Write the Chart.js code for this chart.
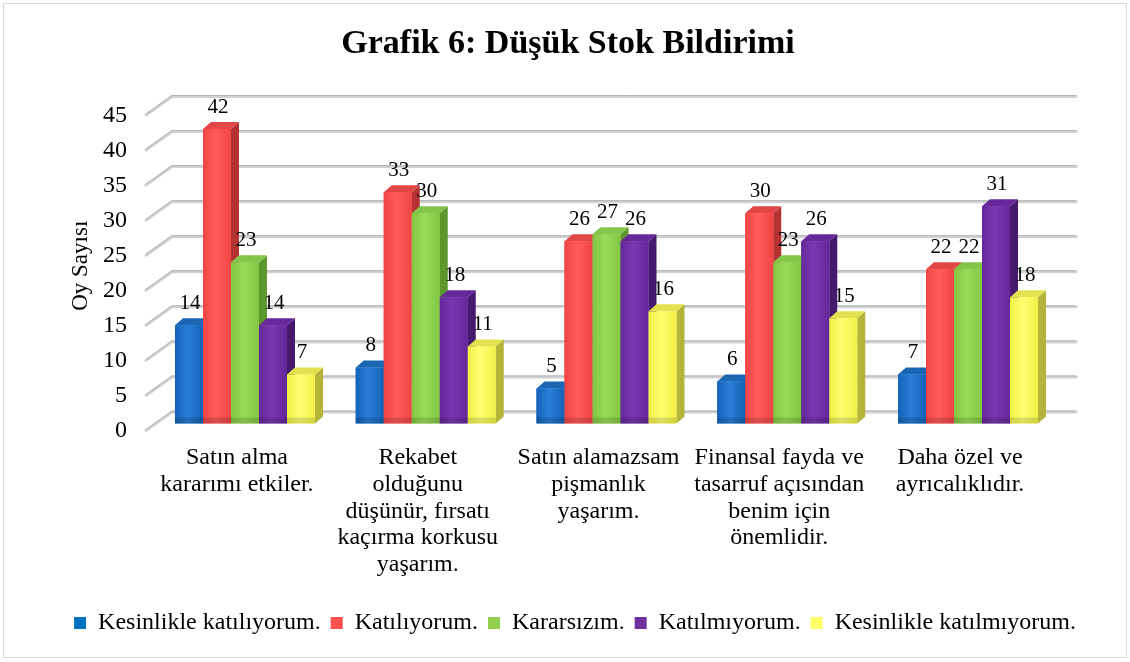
<!DOCTYPE html>
<html>
<head>
<meta charset="utf-8">
<script src="https://cdn.jsdelivr.net/npm/chart.js@4/dist/chart.umd.min.js"></script>
<style>
  html, body { margin: 0; padding: 0; background: #ffffff; }
  #wrap { width: 1130px; height: 662px; position: relative; }
</style>
</head>
<body>
<div id="wrap"><canvas id="c" width="1130" height="662"></canvas></div>
<script>
// ---- data ----
const categories = [
  ["Satın alma", "kararımı etkiler."],
  ["Rekabet", "olduğunu", "düşünür, fırsatı", "kaçırma korkusu", "yaşarım."],
  ["Satın alamazsam", "pişmanlık", "yaşarım."],
  ["Finansal fayda ve", "tasarruf açısından", "benim için", "önemlidir."],
  ["Daha özel ve", "ayrıcalıklıdır."]
];
const seriesNames = ["Kesinlikle katılıyorum.", "Katılıyorum.", "Kararsızım.", "Katılmıyorum.", "Kesinlikle katılmıyorum."];
const kesinlikleKatiliyorum = [14, 8, 5, 6, 7];
const katiliyorum = [42, 33, 26, 30, 22];
const kararsizim = [23, 30, 27, 23, 22];
const katilmiyorum = [14, 18, 26, 26, 31];
const kesinlikleKatilmiyorum = [7, 11, 16, 15, 18];
const yMin = 0, yMax = 45, yStep = 5;
const chartTitle = "Grafik 6: Düşük Stok Bildirimi";
const yTitle = "Oy Sayısı";

// ---- styles ----
const legendColors = ['#0070C0', '#FF5050', '#92D050', '#7030A0', '#FFFF66'];
const frontEdge = ['#1462B6', '#F04444', '#82C642', '#64279A', '#F0F048'];
const frontMid  = ['#2A7ED6', '#FF5C5C', '#9ADB5A', '#7A38B0', '#FFFF70'];
const sideColors = ['#0E4A8C', '#B53232', '#5C982C', '#46196E', '#B4B43A'];
const topColors  = ['#1B66B4', '#E24646', '#84C64A', '#67299A', '#E2E250'];
const FONT = "'Liberation Serif', 'Times New Roman', serif";

const seriesValues = [kesinlikleKatiliyorum, katiliyorum, kararsizim, katilmiyorum, kesinlikleKatilmiyorum];

const DX = 8, DY = -7;

const threeD = {
  id: 'threeD',
  beforeDraw(chart) {
    const ctx = chart.ctx;
    ctx.save();
    ctx.fillStyle = '#ffffff';
    ctx.fillRect(0, 0, chart.width, chart.height);
    ctx.restore();
  },
  afterLayout(chart) {
    if (chart.legend) { chart.legend.left = 20; chart.legend.right = 1130; }
    if (chart.titleBlock) { chart.titleBlock.left = 0; chart.titleBlock.right = 1136; }
  },
  beforeDatasetsDraw(chart) {
    const {ctx, chartArea: ca, scales: {y}} = chart;
    ctx.save();
    y.ticks.forEach(t => {
      const py = y.getPixelForValue(t.value);
      const fy = py + 7, by = py - 11.5;
      const x0 = ca.left - 8.6, x1 = ca.left + 17.4, x2 = ca.right + 17.6;
      ctx.lineCap = 'round';
      ctx.strokeStyle = '#D2D2D2';
      ctx.lineWidth = 3;
      ctx.beginPath(); ctx.moveTo(x0, fy); ctx.lineTo(x1, by); ctx.lineTo(x2, by); ctx.stroke();
      ctx.strokeStyle = '#B4B4B4';
      ctx.lineWidth = 1;
      ctx.beginPath(); ctx.moveTo(x0, fy - 0.8); ctx.lineTo(x1, by - 1); ctx.lineTo(x2, by - 1); ctx.stroke();
    });
    ctx.restore();
  },
  afterDatasetsDraw(chart) {
    const ctx = chart.ctx;
    ctx.save();
    chart.data.datasets.forEach((ds, i) => {
      const meta = chart.getDatasetMeta(i);
      meta.data.forEach(el => {
        const p = el.getProps(['x', 'y', 'base', 'width'], true);
        const l = p.x - p.width / 2, r = p.x + p.width / 2, t = p.y, b = p.base;
        // side
        ctx.fillStyle = sideColors[i];
        ctx.beginPath();
        ctx.moveTo(r, t); ctx.lineTo(r + DX, t + DY); ctx.lineTo(r + DX, b + DY); ctx.lineTo(r, b);
        ctx.closePath(); ctx.fill();
        // top
        ctx.fillStyle = topColors[i];
        ctx.beginPath();
        ctx.moveTo(l, t); ctx.lineTo(r, t); ctx.lineTo(r + DX, t + DY); ctx.lineTo(l + DX, t + DY);
        ctx.closePath(); ctx.fill();
        // front
        const g = ctx.createLinearGradient(l, 0, r, 0);
        g.addColorStop(0, frontEdge[i]);
        g.addColorStop(0.45, frontMid[i]);
        g.addColorStop(1, frontEdge[i]);
        ctx.fillStyle = g;
        ctx.fillRect(l, t, r - l, b - t);
        // floor shading strip
        ctx.fillStyle = 'rgba(0,0,0,0.13)';
        ctx.fillRect(l, b - 6, r - l, 6);
      });
    });
    // value labels
    ctx.fillStyle = '#000';
    ctx.font = '21px ' + FONT;
    ctx.textAlign = 'center';
    ctx.textBaseline = 'middle';
    chart.data.datasets.forEach((ds, i) => {
      const meta = chart.getDatasetMeta(i);
      meta.data.forEach((el, j) => {
        const p = el.getProps(['x', 'y'], true);
        ctx.fillText(String(ds.data[j]), p.x + 1, p.y - 22);
      });
    });
    ctx.restore();
  },
  afterDraw(chart) {
    const ctx = chart.ctx;
    ctx.save();
    ctx.strokeStyle = '#D9D9D9';
    ctx.lineWidth = 1;
    ctx.strokeRect(3.5, 3.5, 1123, 654);
    ctx.restore();
  }
};

new Chart(document.getElementById('c'), {
  type: 'bar',
  data: {
    labels: categories,
    datasets: seriesNames.map((n, i) => ({
      label: n,
      data: seriesValues[i],
      backgroundColor: legendColors[i],
      borderWidth: 0,
      categoryPercentage: 0.7746,
      barPercentage: 1
    }))
  },
  options: {
    responsive: false,
    animation: false,
    devicePixelRatio: 1,
    layout: { padding: { left: 0, right: 71.6, top: 0, bottom: 17 } },
    plugins: {
      title: {
        display: true,
        text: chartTitle,
        color: '#000',
        font: { family: FONT, size: 34, weight: 'bold', lineHeight: 1.2 },
        padding: { top: 23.6, bottom: 43.6 }
      },
      legend: {
        position: 'bottom',
        labels: {
          color: '#000',
          font: { family: FONT, size: 24 },
          boxWidth: 12,
          boxHeight: 12,
          padding: 10
        }
      },
      tooltip: { enabled: false }
    },
    scales: {
      x: {
        grid: { display: false, drawTicks: false },
        border: { display: false },
        ticks: {
          color: '#000',
          font: { family: FONT, size: 24, lineHeight: 1.112 },
          padding: 21,
          labelOffset: -8,
          maxRotation: 0,
          minRotation: 0,
          autoSkip: false
        },
        afterFit(s) { s.height = 177.5; }
      },
      y: {
        min: yMin,
        max: yMax,
        grid: { display: false, drawTicks: false },
        border: { display: false },
        ticks: {
          stepSize: yStep,
          color: '#000',
          font: { family: FONT, size: 24 },
          padding: 27.6,
          labelOffset: 7.5
        },
        title: {
          display: true,
          text: yTitle,
          color: '#000',
          font: { family: FONT, size: 23, lineHeight: 1.2 },
          padding: { top: 67, bottom: 0 }
        },
        afterFit(s) { s.width = 154.6; }
      }
    }
  },
  plugins: [threeD]
});
</script>
</body>
</html>
